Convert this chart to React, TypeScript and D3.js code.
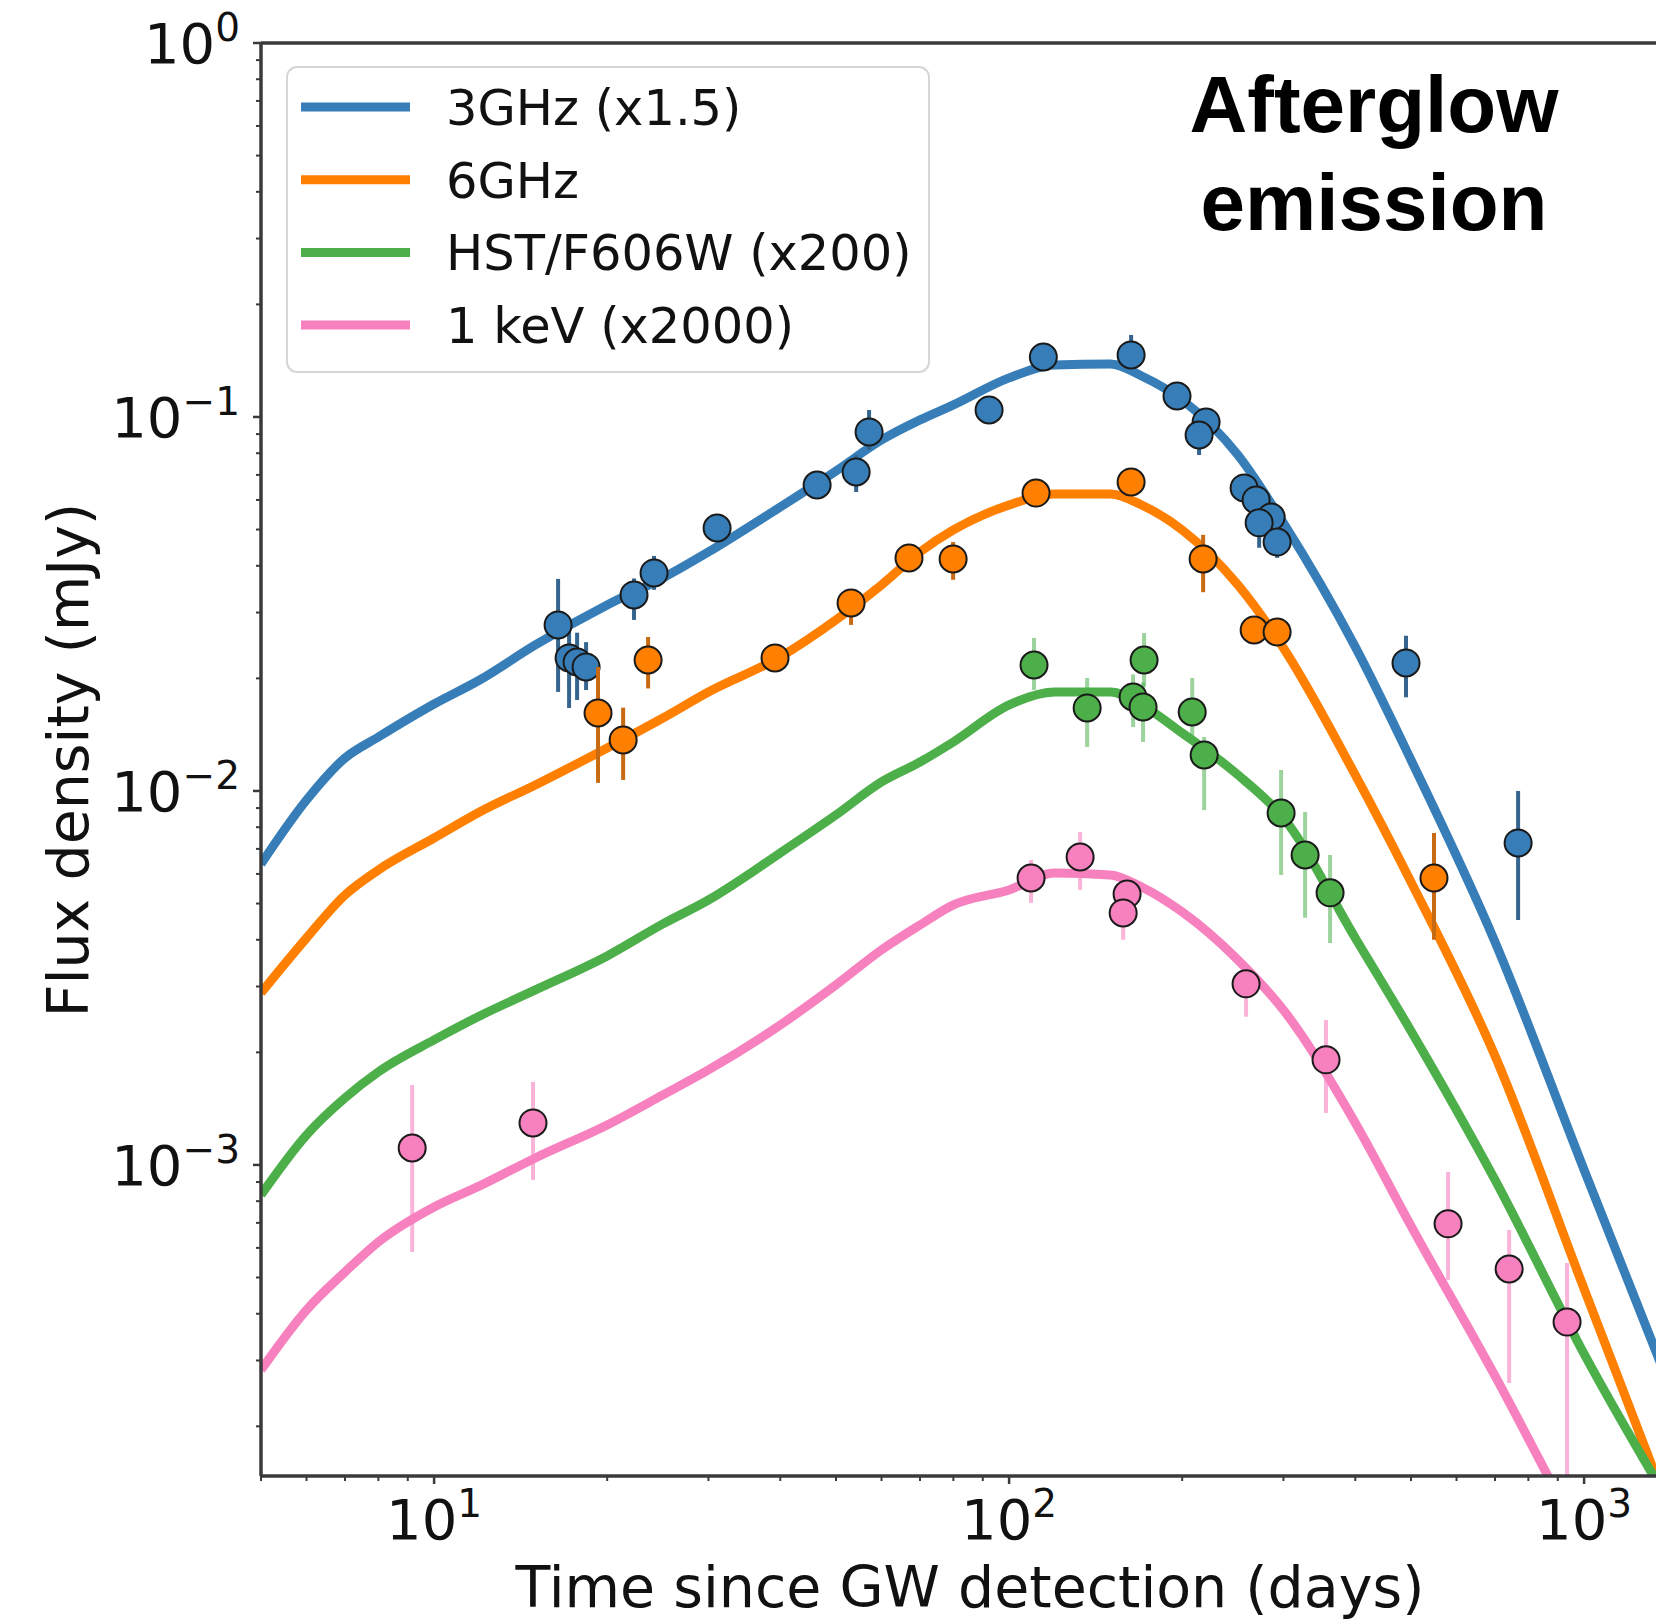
import React from "react";
import * as d3 from "d3";

// ---------- model light curves (time in days, flux in mJy) ----------
const modelTimes = [5, 6, 7, 8, 10, 12, 15, 20, 25, 30, 40, 50, 60, 70, 80, 100, 120, 150, 170, 200, 250, 300, 400, 500, 700, 1000, 1500];
const model3GHz = [0.00638, 0.00946, 0.01225, 0.01394, 0.01708, 0.0198, 0.02457, 0.03143, 0.03711, 0.04355, 0.05745, 0.07172, 0.0868, 0.0982, 0.1077, 0.1272, 0.1377, 0.1386, 0.1287, 0.111, 0.0791, 0.0521, 0.02427, 0.0121, 0.003947, 0.00097, 0.0002005];
const model6GHz = [0.002884, 0.004045, 0.00527, 0.006148, 0.007486, 0.008788, 0.010375, 0.013032, 0.015674, 0.018391, 0.022823, 0.028659, 0.035548, 0.043551, 0.049881, 0.058161, 0.06223, 0.06223, 0.058161, 0.049881, 0.035548, 0.024119, 0.011036, 0.005711, 0.001957, 0.0004661, 0.00009176];
const modelHST = [0.0008315, 0.001203, 0.001511, 0.001773, 0.002159, 0.002502, 0.002937, 0.003621, 0.00441, 0.00511, 0.006828, 0.008627, 0.01057, 0.01195, 0.01352, 0.01698, 0.01839, 0.01839, 0.01698, 0.01429, 0.01104, 0.008469, 0.004045, 0.002282, 0.0009119, 0.0003124, 0.0001057];
const modelXray = [0.000283, 0.0004095, 0.0005174, 0.0006224, 0.000772, 0.0008788, 0.001044, 0.001279, 0.001539, 0.001795, 0.002367, 0.003029, 0.003758, 0.004382, 0.004957, 0.005437, 0.006035, 0.005962, 0.005538, 0.004748, 0.003533, 0.002596, 0.001295, 0.000687, 0.0002727, 0.0000964, 0.00003067];

// ---------- observations ----------
const obs3GHzT = [16.43, 17.17, 17.73, 18.38, 22.27, 24.13, 31.06, 46.36, 54.2, 57.08, 92.3, 114.7, 163.0, 195.9, 220.1, 214.0, 256.3, 268.9, 285.6, 272.2, 292.5, 490.1, 767.8];
const obs3GHzF = [0.0278, 0.02268, 0.02212, 0.02146, 0.03343, 0.03828, 0.05049, 0.06579, 0.07127, 0.0912, 0.1044, 0.1447, 0.1465, 0.1138, 0.097, 0.0895, 0.0646, 0.06, 0.054, 0.0521, 0.0463, 0.022, 0.00726];
const obs3GHzLo = [0.0184, 0.01667, 0.01751, 0.01862, 0.02866, 0.0345, 0.047, 0.0615, 0.063, 0.0816, 0.099, 0.138, 0.137, 0.108, 0.092, 0.0791, 0.061, 0.057, 0.051, 0.0447, 0.042, 0.0178, 0.00452];
const obs3GHzHi = [0.0369, 0.0278, 0.0265, 0.025, 0.037, 0.0425, 0.054, 0.07, 0.079, 0.1044, 0.11, 0.151, 0.1657, 0.12, 0.102, 0.095, 0.068, 0.063, 0.057, 0.055, 0.049, 0.026, 0.01];

const obs6GHzT = [19.28, 21.32, 23.56, 39.17, 53.11, 66.98, 79.92, 111.4, 163.0, 217.5, 266.8, 292.5, 548.2];
const obs6GHzF = [0.01616, 0.01369, 0.0224, 0.02268, 0.03182, 0.04198, 0.04172, 0.0626, 0.067, 0.04172, 0.02694, 0.02661, 0.00585];
const obs6GHzLo = [0.01051, 0.0107, 0.0188, 0.0212, 0.0278, 0.04, 0.0367, 0.06, 0.064, 0.034, 0.0258, 0.0255, 0.004];
const obs6GHzHi = [0.02146, 0.0167, 0.0258, 0.0242, 0.0345, 0.044, 0.0463, 0.0655, 0.07, 0.0484, 0.0282, 0.0278, 0.00772];

const obsHSTT = [110.5, 136.7, 171.7, 164.3, 171.0, 208.2, 218.4, 297.2, 327.2, 361.6];
const obsHSTF = [0.02172, 0.01667, 0.0224, 0.01784, 0.01678, 0.01626, 0.01248, 0.00873, 0.00674, 0.00534];
const obsHSTLo = [0.01862, 0.01311, 0.019, 0.01483, 0.01352, 0.01394, 0.00889, 0.00596, 0.00458, 0.00392];
const obsHSTHi = [0.02565, 0.02005, 0.02645, 0.0205, 0.0195, 0.02005, 0.01394, 0.01138, 0.00879, 0.00674];

const obsXrayT = [9.16, 14.86, 109.2, 132.9, 160.4, 157.9, 258.3, 355.8, 580.0, 740.7, 934.1];
const obsXrayF = [0.00111, 0.001295, 0.00585, 0.00666, 0.0053, 0.00472, 0.00305, 0.00191, 0.000696, 0.000527, 0.00038];
const obsXrayLo = [0.000585, 0.000912, 0.00502, 0.00544, 0.0048, 0.004, 0.00249, 0.001377, 0.000493, 0.000261, 0.00001];
const obsXrayHi = [0.001637, 0.001667, 0.00654, 0.00777, 0.0059, 0.0053, 0.00342, 0.00244, 0.000958, 0.00067, 0.000547];

const seriesLabels = ["3GHz (x1.5)", "6GHz", "HST/F606W (x200)", "1 keV (x2000)"];
const seriesColors = ["#377eb8", "#ff7f00", "#4daf4a", "#f781bf"];
const errColors = ["#35648f", "#c86a12", "rgba(77,175,74,0.55)", "rgba(247,129,191,0.6)"];

const xTickExps = [1, 2, 3];
const yTickExps = [0, -1, -2, -3];

const W = 1656;
const H = 1619;
const LEFT = 261;
const TOP = 43;
const BOTTOM = 1476;

export default function App() {
  const x = d3.scaleLog().domain([5, 1500]).range([LEFT, LEFT + 575 * Math.log10(300)]);
  const y = d3.scaleLog().domain([1.473e-4, 1]).range([BOTTOM, TOP]);
  const line = d3
    .line<[number, number]>()
    .x((d) => x(d[0]))
    .y((d) => y(d[1]))
    .curve(d3.curveMonotoneX);

  const models = [model3GHz, model6GHz, modelHST, modelXray];
  const obs = [
    { t: obs3GHzT, f: obs3GHzF, lo: obs3GHzLo, hi: obs3GHzHi },
    { t: obs6GHzT, f: obs6GHzF, lo: obs6GHzLo, hi: obs6GHzHi },
    { t: obsHSTT, f: obsHSTF, lo: obsHSTLo, hi: obsHSTHi },
    { t: obsXrayT, f: obsXrayF, lo: obsXrayLo, hi: obsXrayHi },
  ];

  // minor tick positions
  const xMinor: number[] = [];
  for (let e = 0; e <= 3; e++) {
    for (let m = 2; m <= 9; m++) {
      const v = m * Math.pow(10, e);
      if (v >= 5 && v <= 1500) xMinor.push(v);
    }
  }
  const yMinor: number[] = [];
  for (let e = -4; e <= -1; e++) {
    for (let m = 2; m <= 9; m++) {
      const v = m * Math.pow(10, e);
      if (v >= 1.473e-4 && v < 1) yMinor.push(v);
    }
  }

  const font = "'DejaVu Sans', sans-serif";
  const axisColor = "#3a3a3a";

  return (
    <svg
      width={W}
      height={H}
      viewBox={`0 0 ${W} ${H}`}
      style={{ position: "absolute", left: 0, top: 0, background: "#fff" }}
    >
      <defs>
        <clipPath id="plotClip">
          <rect x={LEFT} y={TOP} width={W - LEFT + 20} height={BOTTOM - TOP} />
        </clipPath>
      </defs>
      <rect x={0} y={0} width={W} height={H} fill="#fff" />

      {/* model lines */}
      <g clipPath="url(#plotClip)">
        {models.map((m, i) => (
          <path
            key={"m" + i}
            d={line(modelTimes.map((t, k) => [t, m[k]] as [number, number])) || ""}
            fill="none"
            stroke={seriesColors[i]}
            strokeWidth={9}
            strokeLinejoin="round"
          />
        ))}
        {/* observations */}
        {obs.map((s, i) => (
          <g key={"o" + i}>
            {s.t.map((t, k) => (
              <line
                key={"e" + k}
                x1={x(t)}
                x2={x(t)}
                y1={y(s.lo[k])}
                y2={y(s.hi[k])}
                stroke={errColors[i]}
                strokeWidth={4}
              />
            ))}
            {s.t.map((t, k) => (
              <circle
                key={"c" + k}
                cx={x(t)}
                cy={y(s.f[k])}
                r={13.5}
                fill={seriesColors[i]}
                stroke="#1a1a1a"
                strokeWidth={2}
              />
            ))}
          </g>
        ))}
      </g>

      {/* spines */}
      <line x1={LEFT} x2={LEFT} y1={TOP} y2={BOTTOM} stroke={axisColor} strokeWidth={3.5} />
      <line x1={LEFT} x2={W} y1={BOTTOM} y2={BOTTOM} stroke={axisColor} strokeWidth={3.5} />
      <line x1={LEFT} x2={W} y1={TOP} y2={TOP} stroke={axisColor} strokeWidth={3.5} />

      {/* x ticks */}
      {xTickExps.map((e) => (
        <g key={"xt" + e}>
          <line x1={x(Math.pow(10, e))} x2={x(Math.pow(10, e))} y1={BOTTOM} y2={BOTTOM + 8} stroke={axisColor} strokeWidth={2.5} />
          <text x={x(Math.pow(10, e))} y={BOTTOM + 63} fontFamily={font} fontSize={56} textAnchor="middle" fill="#111">
            <tspan>10</tspan>
            <tspan dy={-22} fontSize={39}>{String(e)}</tspan>
          </text>
        </g>
      ))}
      {xMinor.map((v, i) => (
        <line key={"xm" + i} x1={x(v)} x2={x(v)} y1={BOTTOM} y2={BOTTOM + 5} stroke={axisColor} strokeWidth={2} />
      ))}

      {/* y ticks */}
      {yTickExps.map((e) => (
        <g key={"yt" + e}>
          <line x1={LEFT - 8} x2={LEFT} y1={y(Math.pow(10, e))} y2={y(Math.pow(10, e))} stroke={axisColor} strokeWidth={2.5} />
          <text x={240} y={y(Math.pow(10, e)) + 20} fontFamily={font} fontSize={56} textAnchor="end" fill="#111">
            <tspan>10</tspan>
            <tspan dy={-22} fontSize={39}>{e < 0 ? "\u2212" + String(-e) : String(e)}</tspan>
          </text>
        </g>
      ))}
      {yMinor.map((v, i) => (
        <line key={"ym" + i} x1={LEFT - 5} x2={LEFT} y1={y(v)} y2={y(v)} stroke={axisColor} strokeWidth={2} />
      ))}

      {/* axis labels */}
      <text x={970} y={1607} fontFamily={font} fontSize={57} textAnchor="middle" fill="#111">
        Time since GW detection (days)
      </text>
      <text
        transform={`translate(88,760) rotate(-90)`}
        fontFamily={font}
        fontSize={57}
        textAnchor="middle"
        fill="#111"
      >
        Flux density (mJy)
      </text>

      {/* legend */}
      <rect x={287} y={67} width={642} height={305} rx={10} ry={10} fill="rgba(255,255,255,0.8)" stroke="#d6d6d6" strokeWidth={2} />
      {seriesLabels.map((lab, i) => (
        <g key={"lg" + i}>
          <line x1={301} x2={410} y1={107 + i * 72.7} y2={107 + i * 72.7} stroke={seriesColors[i]} strokeWidth={9} />
          <text x={446} y={107 + i * 72.7 + 18} fontFamily={font} fontSize={49.5} fill="#111">
            {lab}
          </text>
        </g>
      ))}

      {/* annotation */}
      <text fontFamily="'Liberation Sans', Arial, sans-serif" fontWeight="bold" fontSize={80} textAnchor="middle" fill="#000">
        <tspan x={1374} y={132}>Afterglow</tspan>
        <tspan x={1374} y={230}>emission</tspan>
      </text>
    </svg>
  );
}
